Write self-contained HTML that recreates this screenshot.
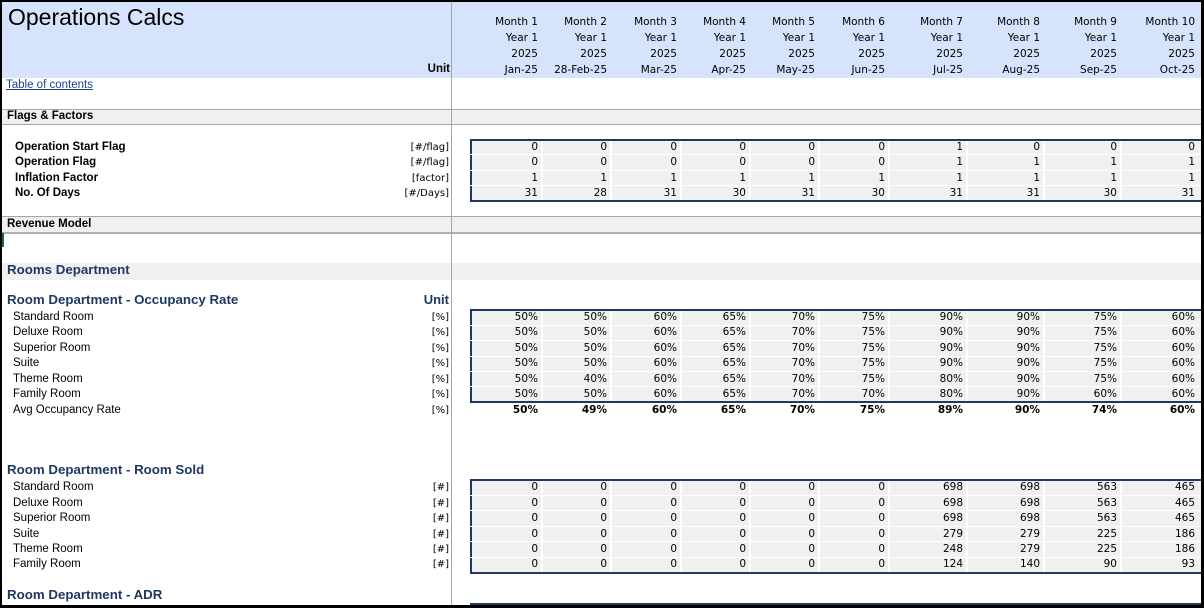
<!DOCTYPE html>
<html style="width:1204px;height:608px;overflow:hidden"><head><meta charset="utf-8"><style>
*{margin:0;padding:0;box-sizing:border-box}
body{width:1204px;height:608px;overflow:hidden;background:#fff;position:relative;font-family:"Liberation Sans",sans-serif;color:#000}
.a{position:absolute}
.hdr{left:0;top:0;width:1204px;height:78px;background:#d6e3fc}
.vl{left:451px;top:0;width:1px;height:608px;background:#a6a6a6}
.hl{left:0;width:1204px;height:1px;background:#a6a6a6}
.band{left:0;width:1204px;background:#f0f0f0}
.row{position:absolute;left:0;width:1204px;height:15px;line-height:15px;font-size:11.5px}
.row i{position:absolute;font-style:normal;width:70px;text-align:right;font-family:"DejaVu Sans",sans-serif;font-size:10.5px}
.c1{left:468px}.c2{left:537px}.c3{left:607px}.c4{left:676px}.c5{left:745px}.c6{left:815px}.c7{left:893px}.c8{left:970px}.c9{left:1047px}.c10{left:1125px}
.lb{position:absolute;left:13px}
.lbb{position:absolute;left:15px;font-weight:bold;font-size:11.5px}
.un{position:absolute;right:755px;font-family:"DejaVu Sans",sans-serif;font-size:10px}
.box{position:absolute;left:470px;width:740px;border:2px solid #1f3864;background:#f0f0f0}
.sep{position:absolute;left:470px;width:740px;height:1px;background:#fff}
.vs{position:absolute;width:2px;background:#fff}
.sec{position:absolute;left:7px;color:#1f3864;font-weight:bold;font-size:13.3px}
.b i{font-weight:bold}
</style></head><body>
<div class="a hdr"></div>
<div class="a" style="left:8px;top:4px;font-size:23px;">Operations Calcs</div>
<div class="a" style="left:380px;top:63px;width:70px;text-align:right;font-weight:bold;font-size:11.5px;">Unit</div>
<div class="row" style="top:15px"><i class="c1">Month 1</i><i class="c2">Month 2</i><i class="c3">Month 3</i><i class="c4">Month 4</i><i class="c5">Month 5</i><i class="c6">Month 6</i><i class="c7">Month 7</i><i class="c8">Month 8</i><i class="c9">Month 9</i><i class="c10">Month 10</i></div>
<div class="row" style="top:31px"><i class="c1">Year 1</i><i class="c2">Year 1</i><i class="c3">Year 1</i><i class="c4">Year 1</i><i class="c5">Year 1</i><i class="c6">Year 1</i><i class="c7">Year 1</i><i class="c8">Year 1</i><i class="c9">Year 1</i><i class="c10">Year 1</i></div>
<div class="row" style="top:47px"><i class="c1">2025</i><i class="c2">2025</i><i class="c3">2025</i><i class="c4">2025</i><i class="c5">2025</i><i class="c6">2025</i><i class="c7">2025</i><i class="c8">2025</i><i class="c9">2025</i><i class="c10">2025</i></div>
<div class="row" style="top:63px"><i class="c1">Jan-25</i><i class="c2" style="width:75px;left:532px">28-Feb-25</i><i class="c3">Mar-25</i><i class="c4">Apr-25</i><i class="c5">May-25</i><i class="c6">Jun-25</i><i class="c7">Jul-25</i><i class="c8">Aug-25</i><i class="c9">Sep-25</i><i class="c10">Oct-25</i></div>
<div class="a" style="left:6px;top:79px;font-size:11.5px;color:#1f3f8f;text-decoration:underline">Table of contents</div>

<div class="a band" style="top:109px;height:16px"></div>
<div class="a hl" style="top:109px"></div><div class="a hl" style="top:124px"></div>
<div class="a" style="left:7px;top:110px;font-size:11.5px;font-weight:bold">Flags &amp; Factors</div>

<div class="box" style="top:139px;height:63px"></div>
<div class="sep" style="top:154px"></div><div class="sep" style="top:170px"></div><div class="sep" style="top:185px"></div>
<div class="row" style="top:140px"><span class="lbb">Operation Start Flag</span><span class="un">[#/flag]</span><i class="c1">0</i><i class="c2">0</i><i class="c3">0</i><i class="c4">0</i><i class="c5">0</i><i class="c6">0</i><i class="c7">1</i><i class="c8">0</i><i class="c9">0</i><i class="c10">0</i></div>
<div class="row" style="top:155px"><span class="lbb">Operation Flag</span><span class="un">[#/flag]</span><i class="c1">0</i><i class="c2">0</i><i class="c3">0</i><i class="c4">0</i><i class="c5">0</i><i class="c6">0</i><i class="c7">1</i><i class="c8">1</i><i class="c9">1</i><i class="c10">1</i></div>
<div class="row" style="top:171px"><span class="lbb">Inflation Factor</span><span class="un">[factor]</span><i class="c1">1</i><i class="c2">1</i><i class="c3">1</i><i class="c4">1</i><i class="c5">1</i><i class="c6">1</i><i class="c7">1</i><i class="c8">1</i><i class="c9">1</i><i class="c10">1</i></div>
<div class="row" style="top:186px"><span class="lbb">No. Of Days</span><span class="un">[#/Days]</span><i class="c1">31</i><i class="c2">28</i><i class="c3">31</i><i class="c4">30</i><i class="c5">31</i><i class="c6">30</i><i class="c7">31</i><i class="c8">31</i><i class="c9">30</i><i class="c10">31</i></div>

<div class="a band" style="top:217px;height:16px"></div>
<div class="a hl" style="top:216px"></div><div class="a hl" style="top:232px;height:2px;background:#b0b0b0"></div>
<div class="a" style="left:7px;top:218px;font-size:11.5px;font-weight:bold">Revenue Model</div>
<div class="a" style="left:0;top:233px;width:4px;height:14px;background:#1e6b35"></div>

<div class="a band" style="top:263px;height:17px"></div>
<div class="sec" style="top:262px">Rooms Department</div>
<div class="sec" style="top:292px">Room Department - Occupancy Rate</div>
<div class="a" style="left:380px;top:292px;width:69px;text-align:right;font-weight:bold;color:#1f3864;font-size:13px">Unit</div>

<div class="box" style="top:309px;height:94px"></div>
<div class="sep" style="top:325px"></div><div class="sep" style="top:340px"></div><div class="sep" style="top:356px"></div><div class="sep" style="top:371px"></div><div class="sep" style="top:386px"></div>
<div class="row" style="top:310px"><span class="lb">Standard Room</span><span class="un">[%]</span><i class="c1">50%</i><i class="c2">50%</i><i class="c3">60%</i><i class="c4">65%</i><i class="c5">70%</i><i class="c6">75%</i><i class="c7">90%</i><i class="c8">90%</i><i class="c9">75%</i><i class="c10">60%</i></div>
<div class="row" style="top:325px"><span class="lb">Deluxe Room</span><span class="un">[%]</span><i class="c1">50%</i><i class="c2">50%</i><i class="c3">60%</i><i class="c4">65%</i><i class="c5">70%</i><i class="c6">75%</i><i class="c7">90%</i><i class="c8">90%</i><i class="c9">75%</i><i class="c10">60%</i></div>
<div class="row" style="top:341px"><span class="lb">Superior Room</span><span class="un">[%]</span><i class="c1">50%</i><i class="c2">50%</i><i class="c3">60%</i><i class="c4">65%</i><i class="c5">70%</i><i class="c6">75%</i><i class="c7">90%</i><i class="c8">90%</i><i class="c9">75%</i><i class="c10">60%</i></div>
<div class="row" style="top:356px"><span class="lb">Suite</span><span class="un">[%]</span><i class="c1">50%</i><i class="c2">50%</i><i class="c3">60%</i><i class="c4">65%</i><i class="c5">70%</i><i class="c6">75%</i><i class="c7">90%</i><i class="c8">90%</i><i class="c9">75%</i><i class="c10">60%</i></div>
<div class="row" style="top:372px"><span class="lb">Theme Room</span><span class="un">[%]</span><i class="c1">50%</i><i class="c2">40%</i><i class="c3">60%</i><i class="c4">65%</i><i class="c5">70%</i><i class="c6">75%</i><i class="c7">80%</i><i class="c8">90%</i><i class="c9">75%</i><i class="c10">60%</i></div>
<div class="row" style="top:387px"><span class="lb">Family Room</span><span class="un">[%]</span><i class="c1">50%</i><i class="c2">50%</i><i class="c3">60%</i><i class="c4">65%</i><i class="c5">70%</i><i class="c6">70%</i><i class="c7">80%</i><i class="c8">90%</i><i class="c9">60%</i><i class="c10">60%</i></div>
<div class="row b" style="top:403px"><span class="lb">Avg Occupancy Rate</span><span class="un">[%]</span><i class="c1">50%</i><i class="c2">49%</i><i class="c3">60%</i><i class="c4">65%</i><i class="c5">70%</i><i class="c6">75%</i><i class="c7">89%</i><i class="c8">90%</i><i class="c9">74%</i><i class="c10">60%</i></div>

<div class="sec" style="top:462px">Room Department - Room Sold</div>
<div class="box" style="top:479px;height:95px"></div>
<div class="sep" style="top:495px"></div><div class="sep" style="top:510px"></div><div class="sep" style="top:526px"></div><div class="sep" style="top:541px"></div><div class="sep" style="top:557px"></div>
<div class="row" style="top:480px"><span class="lb">Standard Room</span><span class="un">[#]</span><i class="c1">0</i><i class="c2">0</i><i class="c3">0</i><i class="c4">0</i><i class="c5">0</i><i class="c6">0</i><i class="c7">698</i><i class="c8">698</i><i class="c9">563</i><i class="c10">465</i></div>
<div class="row" style="top:496px"><span class="lb">Deluxe Room</span><span class="un">[#]</span><i class="c1">0</i><i class="c2">0</i><i class="c3">0</i><i class="c4">0</i><i class="c5">0</i><i class="c6">0</i><i class="c7">698</i><i class="c8">698</i><i class="c9">563</i><i class="c10">465</i></div>
<div class="row" style="top:511px"><span class="lb">Superior Room</span><span class="un">[#]</span><i class="c1">0</i><i class="c2">0</i><i class="c3">0</i><i class="c4">0</i><i class="c5">0</i><i class="c6">0</i><i class="c7">698</i><i class="c8">698</i><i class="c9">563</i><i class="c10">465</i></div>
<div class="row" style="top:527px"><span class="lb">Suite</span><span class="un">[#]</span><i class="c1">0</i><i class="c2">0</i><i class="c3">0</i><i class="c4">0</i><i class="c5">0</i><i class="c6">0</i><i class="c7">279</i><i class="c8">279</i><i class="c9">225</i><i class="c10">186</i></div>
<div class="row" style="top:542px"><span class="lb">Theme Room</span><span class="un">[#]</span><i class="c1">0</i><i class="c2">0</i><i class="c3">0</i><i class="c4">0</i><i class="c5">0</i><i class="c6">0</i><i class="c7">248</i><i class="c8">279</i><i class="c9">225</i><i class="c10">186</i></div>
<div class="row" style="top:557px"><span class="lb">Family Room</span><span class="un">[#]</span><i class="c1">0</i><i class="c2">0</i><i class="c3">0</i><i class="c4">0</i><i class="c5">0</i><i class="c6">0</i><i class="c7">124</i><i class="c8">140</i><i class="c9">90</i><i class="c10">93</i></div>

<div class="sec" style="top:587px">Room Department - ADR</div>
<div class="box" style="top:603px;height:5px;border-bottom:none"></div>

<div class="vs" style="left:541px;top:141px;height:59px"></div><div class="vs" style="left:610px;top:141px;height:59px"></div><div class="vs" style="left:680px;top:141px;height:59px"></div><div class="vs" style="left:749px;top:141px;height:59px"></div><div class="vs" style="left:818px;top:141px;height:59px"></div><div class="vs" style="left:888px;top:141px;height:59px"></div><div class="vs" style="left:966px;top:141px;height:59px"></div><div class="vs" style="left:1043px;top:141px;height:59px"></div><div class="vs" style="left:1120px;top:141px;height:59px"></div>
<div class="vs" style="left:541px;top:311px;height:90px"></div><div class="vs" style="left:610px;top:311px;height:90px"></div><div class="vs" style="left:680px;top:311px;height:90px"></div><div class="vs" style="left:749px;top:311px;height:90px"></div><div class="vs" style="left:818px;top:311px;height:90px"></div><div class="vs" style="left:888px;top:311px;height:90px"></div><div class="vs" style="left:966px;top:311px;height:90px"></div><div class="vs" style="left:1043px;top:311px;height:90px"></div><div class="vs" style="left:1120px;top:311px;height:90px"></div>
<div class="vs" style="left:541px;top:481px;height:91px"></div><div class="vs" style="left:610px;top:481px;height:91px"></div><div class="vs" style="left:680px;top:481px;height:91px"></div><div class="vs" style="left:749px;top:481px;height:91px"></div><div class="vs" style="left:818px;top:481px;height:91px"></div><div class="vs" style="left:888px;top:481px;height:91px"></div><div class="vs" style="left:966px;top:481px;height:91px"></div><div class="vs" style="left:1043px;top:481px;height:91px"></div><div class="vs" style="left:1120px;top:481px;height:91px"></div>

<div class="a vl"></div>
<div class="a" style="left:0;top:0;width:1204px;height:608px;border:2px solid #000;border-right-width:3px;border-bottom-width:3px"></div>
</body></html>
